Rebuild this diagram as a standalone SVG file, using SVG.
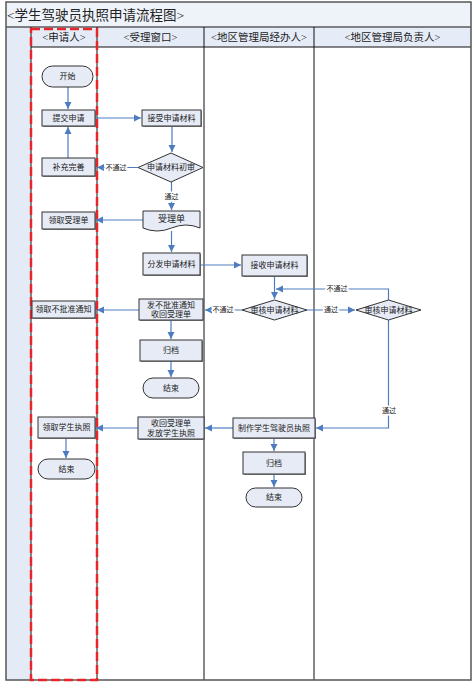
<svg xmlns="http://www.w3.org/2000/svg" width="476" height="686" viewBox="0 0 476 686">
<style>
text{font-family:"Liberation Serif","Noto Sans CJK SC",serif;fill:#222;}
.title{font-size:13.5px;}
.hd{font-size:10.5px;text-anchor:middle;}
.nt{font-size:8px;text-anchor:middle;dominant-baseline:central;}
.lb{font-size:7px;text-anchor:middle;dominant-baseline:central;stroke:#fff;stroke-width:3px;paint-order:stroke;}
.box{fill:#e6ebf6;stroke:#333;stroke-width:1;}
.sh{fill:#8a8a8a;}
.cn{fill:none;stroke:#4f7cc0;stroke-width:1.2;marker-end:url(#ah);}
.lane{stroke:#111;stroke-width:1;fill:none;}
</style>
<defs>
<marker id="ah" markerWidth="8" markerHeight="8" refX="7" refY="4" orient="auto" markerUnits="userSpaceOnUse">
<path d="M0,0.5 L7,4 L0,7.5 Z" fill="#4f7cc0"/>
</marker>
</defs>
<rect width="476" height="686" fill="#fff"/>
<g id="frame">
<rect x="6" y="2" width="465" height="25" fill="#eef2f9"/>
<rect x="6" y="27" width="25" height="653" fill="#e4ebf6"/>
<rect x="31" y="27" width="440" height="20" fill="#e6ecf7"/>
<line class="lane" x1="6" y1="27" x2="471" y2="27"/>
<line class="lane" x1="31" y1="47" x2="471" y2="47"/>
<line class="lane" x1="31" y1="27" x2="31" y2="680"/>
<line class="lane" x1="97" y1="27" x2="97" y2="680"/>
<line class="lane" x1="204" y1="27" x2="204" y2="680"/>
<line class="lane" x1="314" y1="27" x2="314" y2="680"/>
<rect x="6" y="2" width="465" height="678" fill="none" stroke="#555" stroke-width="1.5"/>
<text class="title" x="7" y="20">&lt;学生驾驶员执照申请流程图&gt;</text>
<text class="hd" x="64" y="41">&lt;申请人&gt;</text>
<text class="hd" x="150.5" y="41">&lt;受理窗口&gt;</text>
<text class="hd" x="259" y="41">&lt;地区管理局经办人&gt;</text>
<text class="hd" x="392.5" y="41">&lt;地区管理局负责人&gt;</text>
<rect x="31" y="29" width="66" height="651" fill="none" stroke="#e8262a" stroke-width="2.5" stroke-dasharray="9,4"/>
</g>
<g id="connectors">
<path class="cn" d="M68,87 V109"/>
<path class="cn" d="M95,118 H141"/>
<path class="cn" d="M172,126 V152"/>
<path class="cn" d="M138,167.5 H97"/>
<path class="cn" d="M68,158 V127"/>
<path class="cn" d="M171.5,182 V210"/>
<path class="cn" d="M143,220 H96"/>
<path class="cn" d="M171.5,231 V252"/>
<path class="cn" d="M200,265 H241"/>
<path class="cn" d="M274.5,276 V299"/>
<path class="cn" d="M242,310 H205"/>
<path class="cn" d="M307,310 H355"/>
<path class="cn" d="M388.5,300 V289 H276"/>
<path class="cn" d="M388.5,320 V428 H316"/>
<path class="cn" d="M139,310 H97"/>
<path class="cn" d="M171,320 V339"/>
<path class="cn" d="M171,361 V377"/>
<path class="cn" d="M233,428 H205"/>
<path class="cn" d="M138,428 H96"/>
<path class="cn" d="M66,438 V458"/>
<path class="cn" d="M274,438 V451"/>
<path class="cn" d="M274,474 V487"/>
<text class="lb" x="116" y="167.5">不通过</text>
<text class="lb" x="171.5" y="197">通过</text>
<text class="lb" x="223" y="310">不通过</text>
<text class="lb" x="331" y="310">通过</text>
<text class="lb" x="337" y="289">不通过</text>
<text class="lb" x="389" y="411">通过</text>
</g>
<g id="n_start">
<rect class="box" x="42" y="66" width="51" height="21" rx="10.5"/>
<text class="nt" x="67.5" y="76.5">开始</text>
</g>
<g id="n_submit">
<rect class="sh" x="43" y="111" width="53" height="16"/>
<rect class="box" x="42" y="110" width="53" height="16"/>
<text class="nt" x="68.5" y="118">提交申请</text>
</g>
<g id="n_receive">
<rect class="sh" x="143" y="111" width="59" height="16"/>
<rect class="box" x="142" y="110" width="59" height="16"/>
<text class="nt" x="171.5" y="118">接受申请材料</text>
</g>
<g id="n_check1">
<polygon class="box" points="171,153 203,167.5 171,182 138,167.5"/>
<text class="nt" x="171" y="167.5">申请材料初审</text>
</g>
<g id="n_supplement">
<rect class="sh" x="43" y="159" width="53" height="18"/>
<rect class="box" x="42" y="158" width="53" height="18"/>
<text class="nt" x="68.5" y="167">补充完善</text>
</g>
<g id="n_slip">
<path class="box" d="M143,211 H200 V228 Q186,222 171.5,228 T143,228 Z"/>
<text class="nt" x="171.5" y="218.5" style="font-size:9px">受理单</text>
</g>
<g id="n_getslip">
<rect class="sh" x="43" y="213" width="53" height="17"/>
<rect class="box" x="42" y="212" width="53" height="17"/>
<text class="nt" x="68.5" y="220.5">领取受理单</text>
</g>
<g id="n_distribute">
<rect class="sh" x="144" y="254" width="57" height="22"/>
<rect class="box" x="143" y="253" width="57" height="22"/>
<text class="nt" x="171.5" y="264">分发申请材料</text>
</g>
<g id="n_accept">
<rect class="sh" x="243" y="256" width="65" height="21"/>
<rect class="box" x="242" y="255" width="65" height="21"/>
<text class="nt" x="274.5" y="265.5">接收申请材料</text>
</g>
<g id="n_review1">
<polygon class="box" points="274.5,300 307,310 274.5,320 242,310"/>
<text class="nt" x="274.5" y="310">审核申请材料</text>
</g>
<g id="n_review2">
<polygon class="box" points="388.5,300 421,310 388.5,320 356,310"/>
<text class="nt" x="388.5" y="310">审核申请材料</text>
</g>
<g id="n_reject">
<rect class="sh" x="140" y="300" width="64" height="21"/>
<rect class="box" x="139" y="299" width="64" height="21"/>
<text class="nt" x="171" y="305">发不批准通知</text>
<text class="nt" x="171" y="314.5">收回受理单</text>
</g>
<g id="n_getreject">
<rect class="sh" x="33" y="302" width="63" height="17"/>
<rect class="box" x="32" y="301" width="63" height="17"/>
<text class="nt" x="63.5" y="309.5">领取不批准通知</text>
</g>
<g id="n_archive1">
<rect class="sh" x="141" y="341" width="62" height="21"/>
<rect class="box" x="140" y="340" width="62" height="21"/>
<text class="nt" x="171" y="350.5">归档</text>
</g>
<g id="n_end1">
<rect class="box" x="143" y="378" width="56" height="20" rx="10"/>
<text class="nt" x="171" y="388">结束</text>
</g>
<g id="n_issue">
<rect class="sh" x="139" y="418" width="66" height="22"/>
<rect class="box" x="138" y="417" width="66" height="22"/>
<text class="nt" x="171" y="423">收回受理单</text>
<text class="nt" x="171" y="433">发放学生执照</text>
</g>
<g id="n_getlicense">
<rect class="sh" x="39" y="418" width="57" height="21"/>
<rect class="box" x="38" y="417" width="57" height="21"/>
<text class="nt" x="66.5" y="427.5">领取学生执照</text>
</g>
<g id="n_end2">
<rect class="box" x="38" y="459" width="57" height="20" rx="10"/>
<text class="nt" x="66.5" y="469">结束</text>
</g>
<g id="n_make">
<rect class="sh" x="234" y="419" width="82" height="20"/>
<rect class="box" x="233" y="418" width="82" height="20"/>
<text class="nt" x="274" y="428">制作学生驾驶员执照</text>
</g>
<g id="n_archive2">
<rect class="sh" x="244" y="453" width="62" height="22"/>
<rect class="box" x="243" y="452" width="62" height="22"/>
<text class="nt" x="274" y="463">归档</text>
</g>
<g id="n_end3">
<rect class="box" x="246" y="488" width="56" height="19" rx="9.5"/>
<text class="nt" x="274" y="497.5">结束</text>
</g>
</svg>
